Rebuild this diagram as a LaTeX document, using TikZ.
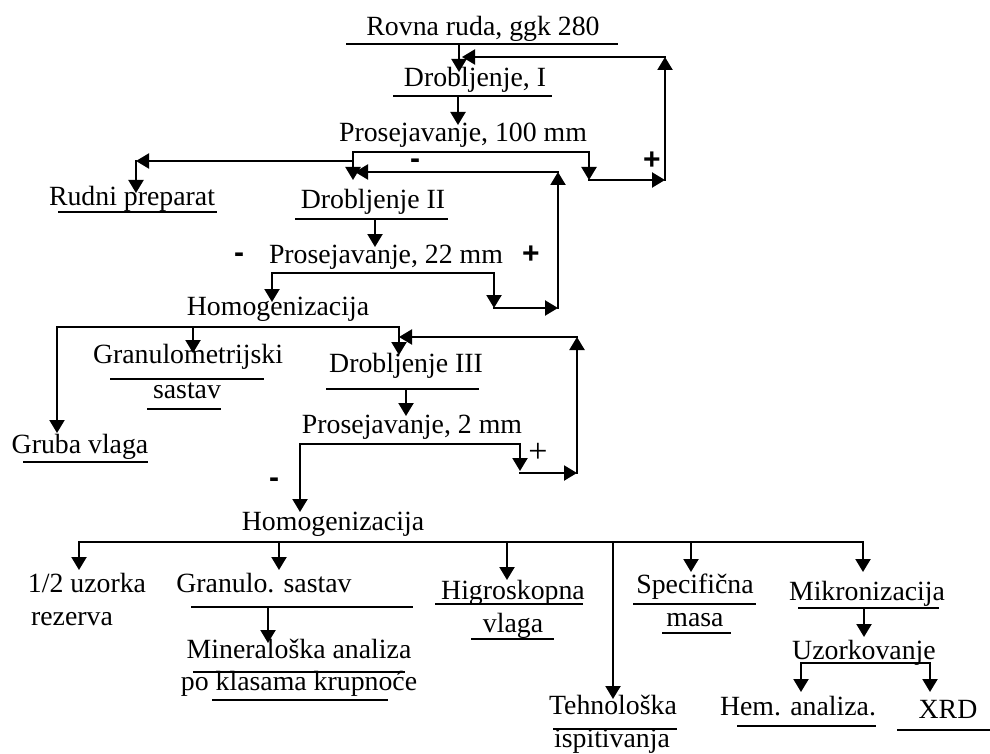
\documentclass[tikz,border=0pt]{standalone}
\usepackage{fontspec}
\setmainfont{Liberation Serif}
\newfontfamily\sgnfont{Liberation Sans}
\usetikzlibrary{arrows.meta}
\begin{document}
\begin{tikzpicture}[x=1pt,y=-1pt,
  arr/.style={line width=2.2pt,line cap=rect,-{Triangle[length=13pt,width=15pt]}},
  ln/.style={line width=2.2pt,line cap=rect},
  ul/.style={line width=1.8pt},
  lbl/.style={anchor=base,inner sep=0pt,font=\fontsize{27.8}{32}\selectfont},
  sgn/.style={inner sep=0pt,font=\sgnfont\bfseries\fontsize{30}{32}\selectfont},
  pls/.style={inner sep=0pt,font=\fontsize{34}{36}\selectfont}]
\useasboundingbox (0,0) rectangle (990,754);
\fill[white] (0,0) rectangle (990,754);

% ---------- text nodes ----------
\node[lbl] (rovna) at (483,36) {Rovna ruda, ggk 280};
\node[lbl] (drob1) at (475,87) {Drobljenje, I};
\node[lbl] (pros100) at (463,142) {Prosejavanje, 100 mm};
\node[lbl] (rudni) at (132,206) {Rudni preparat};
\node[lbl] (drob2) at (373,208) {Drobljenje II};
\node[lbl] (pros22) at (386,263) {Prosejavanje, 22 mm};
\node[lbl] (homo1) at (278,315) {Homogenizacija};
\node[lbl] (granA) at (188,363) {Granulometrijski};
\node[lbl] (granB) at (187,398) {sastav};
\node[lbl] (gruba) at (80,453) {Gruba vlaga};
\node[lbl] (drob3) at (406,372) {Drobljenje III};
\node[lbl] (pros2) at (412,433) {Prosejavanje, 2 mm};
\node[lbl] (homo2) at (333,530) {Homogenizacija};
\node[lbl] (polA) at (87,592) {1/2 uzorka};
\node[lbl] (polB) at (72,625) {rezerva};
\node[lbl] (gsast) at (264,592) {Granulo. sastav};
\node[lbl] (minA) at (299,658) {Mineraloška analiza};
\node[lbl] (minB) at (299,690) {po klasama krupnoće};
\node[lbl] (higA) at (513,599) {Higroskopna};
\node[lbl] (higB) at (513,632) {vlaga};
\node[lbl] (tehA) at (613,714) {Tehnološka};
\node[lbl] (tehB) at (612,747) {ispitivanja};
\node[lbl] (specA) at (695,593) {Specifična};
\node[lbl] (specB) at (695,626) {masa};
\node[lbl] (mikro) at (867,600) {Mikronizacija};
\node[lbl] (uzork) at (864,659) {Uzorkovanje};
\node[lbl] (hem) at (798,715) {Hem. analiza.};
\node[lbl] (xrd) at (948,718) {XRD};

% ---------- signs ----------
\node[sgn] (m1) at (415,164) {-};
\node[sgn] (p1) at (652,161) {+};
\node[sgn] (m2) at (239,258) {-};
\node[sgn] (p2) at (531,255) {+};
\node[sgn] (m3) at (274,483) {-};
\node[pls] (p3) at (538,453) {+};

% ---------- underlines ----------
\draw[ul] (346,44) -- (618,44);
\draw[ul] (393,96) -- (552,96);
\draw[ul] (58,212) -- (217,212);
\draw[ul] (295,219) -- (448,219);
\draw[ul] (110,379) -- (264,379);
\draw[ul] (147,409) -- (221,409);
\draw[ul] (23,462) -- (148,462);
\draw[ul] (326,389) -- (479,389);
\draw[ul] (191,607) -- (413,607);
\draw[ul] (193,672) -- (405,672);
\draw[ul] (212,700) -- (388,700);
\draw[ul] (435,604) -- (583,604);
\draw[ul] (471,639) -- (554,639);
\draw[ul] (553,729) -- (677,729);
\draw[ul] (633,604) -- (756,604);
\draw[ul] (662,633) -- (731,633);
\draw[ul] (798,608) -- (939,608);
\draw[ul] (737,726) -- (876,726);
\draw[ul] (897,730) -- (990,730);

% ---------- junction coordinates ----------
\coordinate (r1) at (459,44);  \coordinate (d1t) at (459,72);
\coordinate (d1b) at (458,96); \coordinate (p100t) at (458,125);
\coordinate (s1L) at (353,152); \coordinate (s1R) at (589,152);
\coordinate (d2t) at (353,180); \coordinate (s1Rd) at (589,180);
\coordinate (f1a) at (665,180); \coordinate (f1b) at (665,57);
\coordinate (d1in) at (462,57);
\coordinate (rb) at (353,161); \coordinate (rc) at (136,161);
\coordinate (rudt) at (136,193);
\coordinate (d2b) at (375,219); \coordinate (p22t) at (375,247);
\coordinate (s2L) at (272,273); \coordinate (s2R) at (494,273);
\coordinate (h1t) at (272,302); \coordinate (s2Rd) at (494,308);
\coordinate (f2a) at (558,308); \coordinate (f2b) at (558,172);
\coordinate (d2in) at (355,172);
\coordinate (b1L) at (57,327); \coordinate (b1M) at (193,327); \coordinate (b1R) at (399,327);
\coordinate (grt) at (57,433); \coordinate (gnt) at (193,353); \coordinate (d3t) at (399,355);
\coordinate (d3b) at (406,389); \coordinate (p2t) at (406,416);
\coordinate (s3L) at (300,444); \coordinate (s3R) at (520,444);
\coordinate (h2t) at (300,512); \coordinate (s3Rd) at (520,471);
\coordinate (s3Rc) at (520,473);
\coordinate (f3a) at (577,473); \coordinate (f3b) at (577,337);
\coordinate (d3in) at (399,337);
\coordinate (bL) at (79,542); \coordinate (bR) at (863,542);
\coordinate (bG) at (279,542); \coordinate (bH) at (507,542);
\coordinate (bT) at (613,542); \coordinate (bS) at (691,542);
\coordinate (gsb) at (268,607); \coordinate (mint) at (268,643);
\coordinate (mkb) at (864,608); \coordinate (uzt) at (864,637);
\coordinate (uL) at (801,663); \coordinate (uR) at (930,663);

% ---------- connectors ----------
\draw[arr] (r1) -- (d1t);
\draw[arr] (d1b) -- (p100t);
\draw[ln] (s1L) -- (s1R);
\draw[arr] (s1L) -- (d2t);
\draw[arr] (s1R) -- (s1Rd);
\draw[arr] (s1Rd) -- (f1a);
\draw[arr] (f1a) -- (f1b);
\draw[arr] (f1b) -- (d1in);
\draw[arr] (rb) -- (rc);
\draw[arr] (rc) -- (rudt);
\draw[arr] (d2b) -- (p22t);
\draw[ln] (s2L) -- (s2R);
\draw[arr] (s2L) -- (h1t);
\draw[arr] (s2R) -- (s2Rd);
\draw[arr] (s2Rd) -- (f2a);
\draw[arr] (f2a) -- (f2b);
\draw[arr] (f2b) -- (d2in);
\draw[ln] (b1L) -- (b1R);
\draw[arr] (b1L) -- (grt);
\draw[arr] (b1M) -- (gnt);
\draw[arr] (b1R) -- (d3t);
\draw[arr] (d3b) -- (p2t);
\draw[ln] (s3L) -- (s3R);
\draw[arr] (s3L) -- (h2t);
\draw[arr] (s3R) -- (s3Rd);
\draw[arr] (s3Rc) -- (f3a);
\draw[arr] (f3a) -- (f3b);
\draw[arr] (f3b) -- (d3in);
\draw[ln] (bL) -- (bR);
\draw[arr] (bL) -- ++(0,28);
\draw[arr] (bG) -- ++(0,28);
\draw[arr] (bH) -- ++(0,38);
\draw[arr] (bT) -- ++(0,157);
\draw[arr] (bS) -- ++(0,30);
\draw[arr] (bR) -- ++(0,30);
\draw[arr] (gsb) -- (mint);
\draw[arr] (mkb) -- (uzt);
\draw[ln] (uL) -- (uR);
\draw[arr] (uL) -- ++(0,29);
\draw[arr] (uR) -- ++(0,29);
\end{tikzpicture}
\end{document}
